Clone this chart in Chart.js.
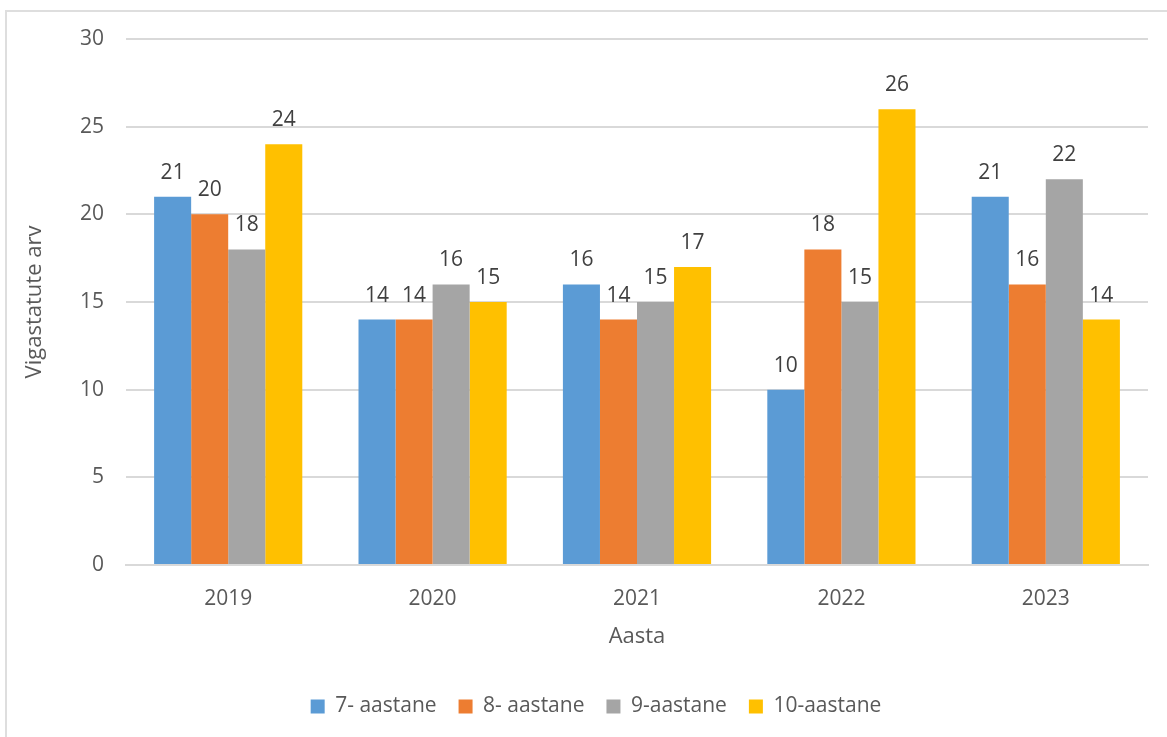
<!DOCTYPE html>
<html>
<head>
<meta charset="utf-8">
<script src="https://cdn.jsdelivr.net/npm/chart.js"></script>
<style>
  body { margin: 0; background: #fff; }
  #wrap { position: relative; width: 1167px; height: 737px; overflow: hidden; }
  #frame { position: absolute; left: 5px; top: 10px; width: 1400px; height: 900px; border: 2px solid #dedede; }
  #myChart { position: absolute; left: 0; top: 0; }
</style>
</head>
<body>
<div id="wrap">
  <div id="frame"></div>
  <canvas id="myChart" width="1167" height="737"></canvas>
</div>

<script>
// aastad ja vigastatute arv vanuserühmade kaupa
var years = ['2019', '2020', '2021', '2022', '2023'];
var age7 = [21, 14, 16, 10, 21];
var age8 = [20, 14, 14, 18, 16];
var age9 = [18, 16, 15, 15, 22];
var age10 = [24, 15, 17, 26, 14];
var seriesNames = ['7- aastane', '8- aastane', '9-aastane', '10-aastane'];
var yTicks = [0, 5, 10, 15, 20, 25, 30];

var colors = ['#5B9BD5', '#ED7D31', '#A5A5A5', '#FFC000'];
var fontFamily = '"Open Sans", "Liberation Sans", sans-serif';

// väärtused tulpade kohale
var valueLabels = {
    id: 'valueLabels',
    afterDatasetsDraw: function(chart) {
        var ctx = chart.ctx;
        ctx.save();
        ctx.font = '21px ' + fontFamily;
        ctx.fillStyle = '#404040';
        ctx.textAlign = 'center';
        ctx.textBaseline = 'middle';
        chart.data.datasets.forEach(function(ds, i) {
            chart.getDatasetMeta(i).data.forEach(function(bar, j) {
                ctx.fillText(ds.data[j], bar.x, bar.y - 24);
            });
        });
        ctx.restore();
    }
};

// legend veidi paremale, raami keskele
var legendShift = {
    id: 'legendShift',
    afterLayout: function(chart) {
        chart.legend.left += 22;
        chart.legend.right += 22;
    }
};

var ctx = document.getElementById("myChart");
var config = {
    type: 'bar',
    data: {
        labels: years,
        datasets: [age7, age8, age9, age10].map(function(d, i) {
            return {
                label: seriesNames[i],
                data: d,
                backgroundColor: colors[i],
                borderWidth: 0,
                categoryPercentage: 0.725,
                barPercentage: 1.0
            };
        })
    },
    options: {
        responsive: false,
        animation: false,
        layout: { padding: { left: 0, top: 39, right: 19, bottom: 10 } },
        plugins: {
            legend: {
                position: 'bottom',
                labels: {
                    boxWidth: 14,
                    boxHeight: 14,
                    padding: 22,
                    color: '#595959',
                    font: { family: fontFamily, size: 21 }
                }
            },
            tooltip: { enabled: false }
        },
        scales: {
            x: {
                grid: { display: false },
                border: { color: '#d9d9d9', width: 2 },
                ticks: { color: '#595959', padding: 13, font: { family: fontFamily, size: 21 } },
                title: {
                    display: true,
                    text: 'Aasta',
                    color: '#595959',
                    padding: { top: 10, bottom: 24 },
                    font: { family: fontFamily, size: 22 }
                },
                afterFit: function(scale) { scale.height = 109; }
            },
            y: {
                min: 0,
                max: 30,
                afterBuildTicks: function(scale) {
                    scale.ticks = yTicks.map(function(v) { return { value: v }; });
                },
                grid: { color: '#d9d9d9', lineWidth: 2, drawTicks: false },
                border: { display: false },
                ticks: { color: '#595959', padding: 22, font: { family: fontFamily, size: 21 } },
                title: {
                    display: true,
                    text: 'Vigastatute arv',
                    color: '#595959',
                    padding: { top: 22, bottom: 0 },
                    font: { family: fontFamily, size: 22 }
                },
                afterFit: function(scale) { scale.width = 126; }
            }
        }
    },
    plugins: [valueLabels, legendShift]
};
var myChart = new Chart(ctx, config);
</script>
</body>
</html>
